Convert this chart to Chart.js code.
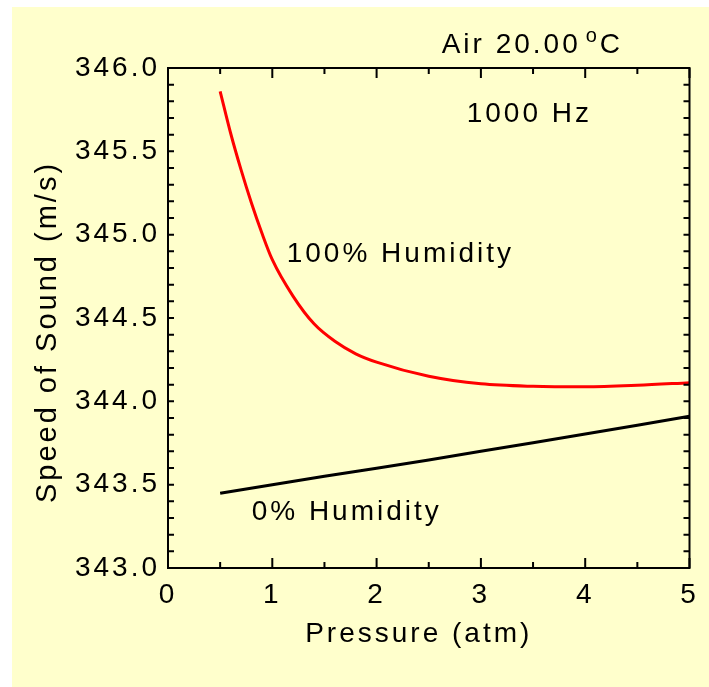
<!DOCTYPE html>
<html>
<head>
<meta charset="utf-8">
<script src="https://cdn.jsdelivr.net/npm/chart.js@4.4.1/dist/chart.umd.min.js"></script>
<style>
    html, body { margin: 0; padding: 0; background: #ffffff; overflow: hidden; }
    #panel { position: absolute; left: 12px; top: 7px; width: 697px; height: 680px; background: #ffffcc; }
</style>
</head>
<body>
<div id="panel"><canvas id="chartSound"></canvas></div>
<script>
// 0% humidity
const pressureDry = [0.5, 1, 1.5, 2, 2.5, 3, 3.5, 4, 4.5, 5];
const speedDry = [343.448, 343.50, 343.55, 343.598, 343.648, 343.70, 343.752, 343.804, 343.856, 343.91];

// 100% humidity
const pressureWet = [0.5, 0.6, 0.7, 0.8, 0.9, 1.0, 1.2, 1.4, 1.6, 1.8, 2.0, 2.5, 3.0, 3.5, 4.0, 4.5, 5.0];
const speedWet = [345.86, 345.61, 345.39, 345.19, 345.01, 344.85, 344.63, 344.465, 344.36, 344.285, 344.235, 344.15, 344.105, 344.09, 344.087, 344.096, 344.112];

const xMajorTicks = [0, 1, 2, 3, 4, 5];
const xMinorTicks = [0.5, 1.5, 2.5, 3.5, 4.5];
const yTicks = [];
for (let i = 0; i <= 30; i++) {
    yTicks.push(343 + i / 10);
}

const xTitle = "Pressure (atm)";
const yTitle = "Speed of Sound (m/s)";

const noteTexts = ["1000 Hz", "100% Humidity", "0% Humidity"];
const notePressure = [2.864, 1.138, 0.802];
const noteSpeed = [345.678, 344.838, 343.288];

const FONT = '"Liberation Sans", Arial, sans-serif';

const framePlugin = {
    id: 'frame',
    beforeUpdate(chart) {
        chart.ctx.letterSpacing = '3px';
    },
    beforeDraw(chart) {
        chart.ctx.letterSpacing = '3px';
    },
    afterDraw(chart) {
        const ctx = chart.ctx;
        const a = chart.chartArea;
        const x = chart.scales.x;
        const y = chart.scales.y;
        ctx.save();
        ctx.strokeStyle = '#000';
        ctx.lineWidth = 2;
        ctx.strokeRect(a.left, a.top, a.right - a.left, a.bottom - a.top);

        ctx.beginPath();
        const xTick = (v, len) => {
            const px = x.getPixelForValue(v);
            ctx.moveTo(px, a.bottom);
            ctx.lineTo(px, a.bottom - len);
            ctx.moveTo(px, a.top);
            ctx.lineTo(px, a.top + len);
        };
        xMajorTicks.forEach(v => xTick(v, 10));
        xMinorTicks.forEach(v => xTick(v, 6));
        yTicks.forEach(v => {
            const py = y.getPixelForValue(v);
            ctx.moveTo(a.left, py);
            ctx.lineTo(a.left + 6, py);
            ctx.moveTo(a.right, py);
            ctx.lineTo(a.right - 6, py);
        });
        ctx.stroke();

        ctx.fillStyle = '#000';
        ctx.letterSpacing = '3px';
        ctx.font = '28px ' + FONT;

        // axis titles
        ctx.textAlign = 'center';
        ctx.textBaseline = 'middle';
        ctx.fillText(xTitle, (a.left + a.right) / 2 - 10, a.bottom + 66);
        ctx.save();
        ctx.translate(a.left - 120, (a.top + a.bottom) / 2 + 14);
        ctx.rotate(-Math.PI / 2);
        ctx.font = '29px ' + FONT;
        ctx.fillText(yTitle, 0, 0);
        ctx.restore();

        ctx.textAlign = 'left';
        ctx.textBaseline = 'alphabetic';
        for (let i = 0; i < noteTexts.length; i++) {
            ctx.fillText(noteTexts[i], x.getPixelForValue(notePressure[i]), y.getPixelForValue(noteSpeed[i]));
        }

        // temperature label with superscript degree
        let tx = x.getPixelForValue(2.624);
        const ty = y.getPixelForValue(346.09);
        ctx.fillText("Air 20.00", tx, ty);
        tx += ctx.measureText("Air 20.00").width + 5;
        ctx.font = '20px ' + FONT;
        ctx.letterSpacing = '0px';
        ctx.fillText("o", tx, ty - 11);
        tx += ctx.measureText("o").width + 3;
        ctx.font = '28px ' + FONT;
        ctx.letterSpacing = '3px';
        ctx.fillText("C", tx, ty);
        ctx.restore();
    }
};

const ctxSound = document.getElementById('chartSound').getContext('2d');

new Chart(ctxSound, {
    type: 'line',
    data: {
        datasets: [
            {
                label: "100% Humidity",
                data: pressureWet.map((p, i) => ({x: p, y: speedWet[i]})),
                borderColor: "#ff0000",
                borderWidth: 3,
                pointRadius: 0,
                cubicInterpolationMode: 'monotone',
                fill: false,
            },
            {
                label: "0% Humidity",
                data: pressureDry.map((p, i) => ({x: p, y: speedDry[i]})),
                borderColor: "#000000",
                borderWidth: 3,
                pointRadius: 0,
                tension: 0,
                fill: false,
            }
        ]
    },
    options: {
        responsive: true,
        maintainAspectRatio: false,
        animation: false,
        layout: {
            padding: {top: 61, right: 19.5, bottom: 0, left: 0}
        },
        plugins: {
            legend: {display: false},
            tooltip: {enabled: false},
        },
        scales: {
            x: {
                type: 'linear',
                min: 0,
                max: 5,
                grid: {display: false, drawTicks: false},
                border: {display: false},
                ticks: {
                    stepSize: 1,
                    padding: 10,
                    color: '#000',
                    font: {family: FONT, size: 28},
                    maxRotation: 0,
                },
                afterFit: (scale) => {
                    scale.height = 119;
                },
            },
            y: {
                type: 'linear',
                min: 343,
                max: 346,
                grid: {display: false, drawTicks: false},
                border: {display: false},
                ticks: {
                    stepSize: 0.5,
                    padding: 8,
                    color: '#000',
                    font: {family: FONT, size: 28},
                    callback: (v) => v.toFixed(1),
                },
                afterFit: (scale) => {
                    scale.width = 156;
                },
            }
        }
    },
    plugins: [framePlugin]
});
</script>
</body>
</html>
